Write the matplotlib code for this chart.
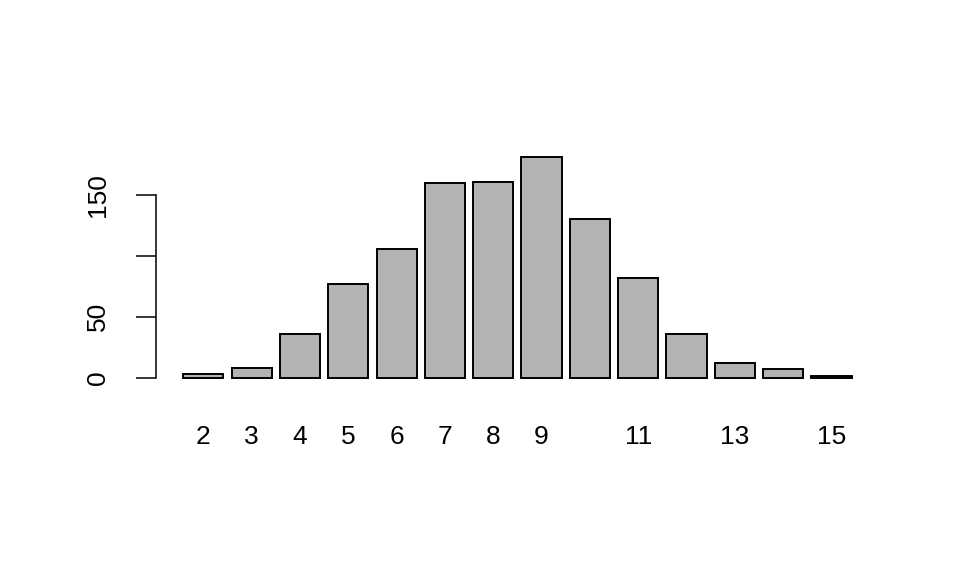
import matplotlib
matplotlib.use("Agg")
import matplotlib.pyplot as plt

# values
categories = [2, 3, 4, 5, 6, 7, 8, 9, 10, 11, 12, 13, 14, 15]
counts = [3, 8, 36, 77, 106, 160, 161, 181, 130, 82, 36, 12, 7, 1]
# R drops labels that would overlap
shown_labels = ["2", "3", "4", "5", "6", "7", "8", "9", "", "11", "", "13", "", "15"]
y_ticks = [0, 50, 100, 150]
y_labels = ["0", "50", "", "150"]

plt.rcParams['font.family'] = ['Liberation Sans', 'DejaVu Sans']

fig = plt.figure(figsize=(9.6, 5.76), dpi=100)
ax = fig.add_axes([0.163, 0.329, 0.752, 0.413])

# barplot layout like R: width 1, space 0.2
pos = [0.7 + 1.2 * i for i in range(len(categories))]
ax.bar(pos, counts, width=1.0, color='#B3B3B3', edgecolor='black', linewidth=1.4)

lo, hi = 0.2, 0.2 + 1.2 * len(categories) - 0.2
pad_x = (hi - lo) * 0.04
ax.set_xlim(lo - pad_x, hi + pad_x)
ymax = max(counts)
ax.set_ylim(-ymax * 0.04, ymax * 1.04)

ax.set_xticks(pos)
ax.set_xticklabels(shown_labels, fontsize=19)
ax.tick_params(axis='x', length=0, pad=28)

ax.set_yticks(y_ticks)
ax.set_yticklabels(y_labels, fontsize=19, rotation=90, va='center')
ax.tick_params(axis='y', length=14.4, width=1.1, pad=19)

for s in ['top', 'right', 'bottom']:
    ax.spines[s].set_visible(False)
ax.spines['left'].set_bounds(0, 150)
ax.spines['left'].set_linewidth(1.1)

fig.savefig("out.png", dpi=100)
